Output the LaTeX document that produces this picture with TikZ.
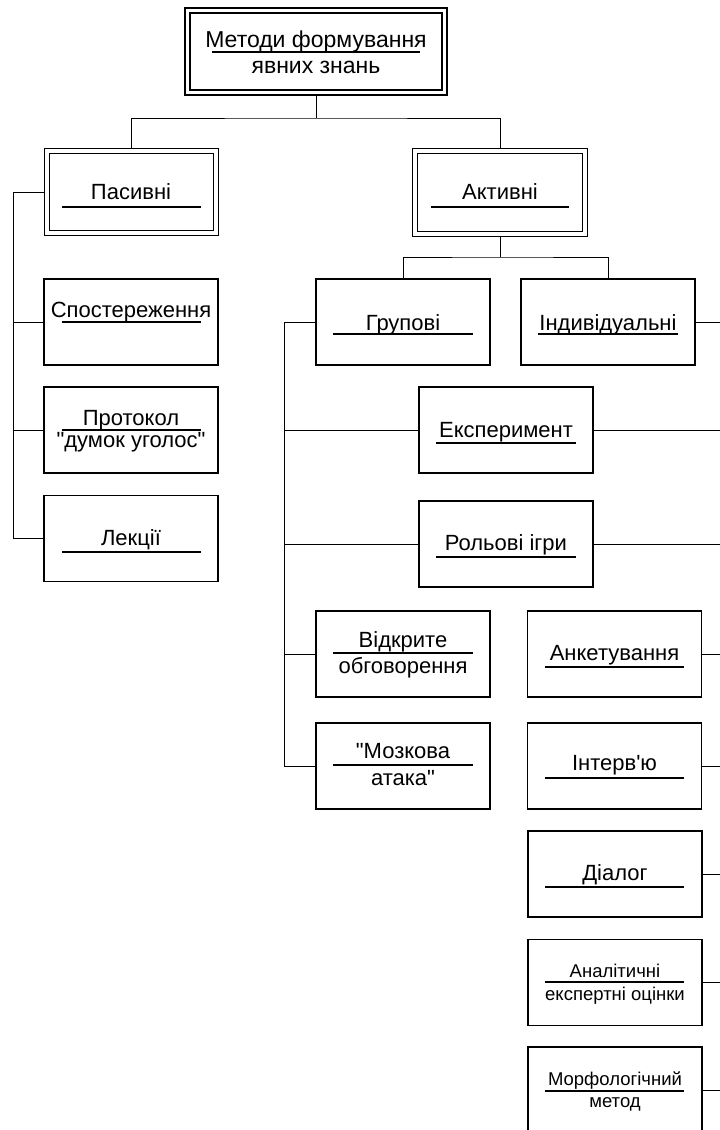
\documentclass[tikz,border=0pt]{standalone}
\usepackage{fontspec}
\setmainfont{Liberation Sans}[Ligatures=TeXOff]
\begin{document}
\begin{tikzpicture}[x=1pt,y=-1pt,
  box/.style={draw, line width=1.6pt, minimum width=174pt, minimum height=86pt, inner sep=0pt},
  dbox/.style={draw, double, line width=1.5pt, double distance=3.5pt, inner sep=0pt, outer sep=3.25pt},
  txt/.style={anchor=base, inner sep=0pt, font=\fontsize{22}{26}\selectfont},
  ttxt/.style={anchor=base, inner sep=0pt, font=\fontsize{23}{27}\selectfont},
  stxt/.style={anchor=base, inner sep=0pt, font=\fontsize{18.5}{22}\selectfont},
  sepline/.style={line width=1.3pt},
  conn/.style={line width=1pt}]
\clip (0,0) rectangle (720,1130);
\fill[white] (0,0) rectangle (720,1130);

% ---- double boxes
\node[dbox, minimum width=257pt, minimum height=82pt] (top) at (316,51.5) {};
\node[dbox, minimum width=169pt, minimum height=82pt] (pas) at (131.5,192) {};
\node[dbox, minimum width=170pt, minimum height=83pt] (act) at (500,192.5) {};

% ---- single boxes
\node[box] (spo) at (131,322) {};
\node[box] (pro) at (131,430) {};
\node[box] (lek) at (131,538.5) {};
\node[box] (grp) at (403,322) {};
\node[box] (ind) at (608,322) {};
\node[box] (exp) at (506,430) {};
\node[box] (rol) at (506,544) {};
\node[box] (vid) at (403,654) {};
\node[box] (moz) at (403,766) {};
\node[box] (ank) at (614.5,654) {};
\node[box] (int) at (614.5,766) {};
\node[box] (dia) at (615,874) {};
\node[box] (ana) at (615,982.5) {};
\node[box] (mor) at (615,1090) {};

% ---- texts
\node[ttxt] (t1) at (316,47) {Методи формування};
\node[ttxt] (t2) at (316,73) {явних знань};
\draw[sepline] (212,52) -- (420,52);

\node[txt] (tpas) at (131,199) {Пасивні};
\draw[sepline] (62,207) -- (201,207);
\node[txt] (tact) at (500,199) {Активні};
\draw[sepline] (431,207) -- (569,207);

\node[txt] (tspo) at (131,317) {Спостереження};
\draw[sepline] (62,322) -- (201,322);
\node[txt] (tpro1) at (131,425) {Протокол};
\draw[sepline] (62,430) -- (201,430);
\node[txt] (tpro2) at (131,447) {"думок уголос"};
\node[txt] (tlek) at (131,545) {Лекції};
\draw[sepline] (62,552) -- (201,552);

\node[txt] (tgrp) at (403,330) {Групові};
\draw[sepline] (333,334) -- (473,334);
\node[txt] (tind) at (608,330) {Індивідуальні};
\draw[sepline] (538,334) -- (678,334);

\node[txt] (texp) at (506,437) {Експеримент};
\draw[sepline] (436,443) -- (576,443);
\node[txt] (trol) at (506,550) {Рольові ігри};
\draw[sepline] (436,557) -- (576,557);

\node[txt] (tvid1) at (403,647) {Відкрите};
\draw[sepline] (333,653) -- (473,653);
\node[txt] (tvid2) at (403,673) {обговорення};
\node[txt] (tmoz1) at (403,758) {"Мозкова};
\draw[sepline] (333,765) -- (473,765);
\node[txt] (tmoz2) at (403,785) {атака"};

\node[txt] (tank) at (614.5,660) {Анкетування};
\draw[sepline] (545,667) -- (684,667);
\node[txt] (tint) at (614.5,770) {Інтерв'ю};
\draw[sepline] (545,778) -- (684,778);
\node[txt] (tdia) at (615,880) {Діалог};
\draw[sepline] (545,887) -- (684,887);
\node[stxt] (tana1) at (615,977) {Аналітичні};
\draw[sepline] (545,982) -- (684,982);
\node[stxt] (tana2) at (615,1000) {експертні оцінки};
\node[stxt] (tmor1) at (615,1085) {Морфологічний};
\draw[sepline] (545,1091) -- (684,1091);
\node[stxt] (tmor2) at (615,1107) {метод};

% ---- connectors
\coordinate (j1) at (316,118);
\draw[conn] (top.south) -- (j1);
\draw[conn] (pas.north) |- (j1) -| (act.north);

\coordinate (pb) at (13,192);
\draw[conn] (pas.west) -- (pb) |- (lek.west);
\draw[conn] (pb |- spo.west) -- (spo.west);
\draw[conn] (pb |- pro.west) -- (pro.west);

\coordinate (j2) at (500,257);
\draw[conn] (act.south) -- (j2);
\draw[conn] (grp.north) |- (j2) -| (ind.north);

\coordinate (gb) at (284,322);
\draw[conn] (grp.west) -- (gb) |- (moz.west);
\draw[conn] (gb |- exp.west) -- (exp.west);
\draw[conn] (gb |- rol.west) -- (rol.west);
\draw[conn] (gb |- vid.west) -- (vid.west);

\coordinate (rb) at (722,322);
\draw[conn] (ind.east) -- (rb);
\draw[conn] (exp.east) -- (rb |- exp.east);
\draw[conn] (rol.east) -- (rb |- rol.east);
\draw[conn] (ank.east) -- (rb |- ank.east);
\draw[conn] (int.east) -- (rb |- int.east);
\draw[conn] (dia.east) -- (rb |- dia.east);
\draw[conn] (ana.east) -- (rb |- ana.east);
\draw[conn] (mor.east) -- (rb |- mor.east);
\end{tikzpicture}
\end{document}
